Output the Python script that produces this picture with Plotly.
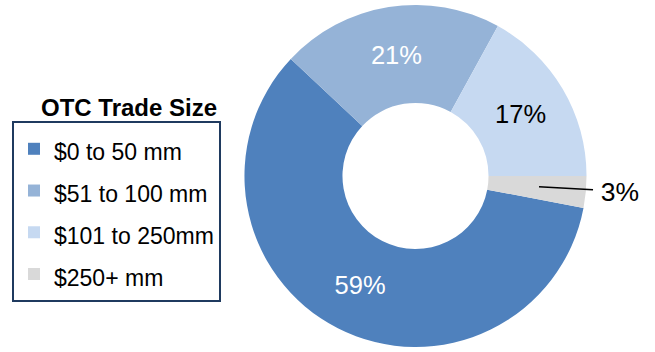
import plotly.graph_objects as go

categories = ["$0 to 50 mm", "$51 to 100 mm", "$101 to 250mm", "$250+ mm"]
shares = [59, 21, 17, 3]
colors = ["#4F81BD", "#95B3D7", "#C6D9F1", "#D9D9D9"]
text_colors = ["white", "white", "black", "black"]
text_positions = ["inside", "inside", "inside", "outside"]
legend_title = "OTC Trade Size"

W, H = 655, 352
FONT = "Liberation Sans, Arial, sans-serif"

# legend rows are spaced by the legend font; the visible text uses a smaller span
legend_labels = [f"<span style='font-size:23px'>{c}</span>" for c in categories]
# outside label is nudged away from the ring (room for the leader line)
text_templates = ["%{value}%" if p == "inside" else "&nbsp;%{value}%" for p in text_positions]

fig = go.Figure(go.Pie(
    labels=legend_labels,
    values=shares,
    sort=False,
    direction="clockwise",
    rotation=100.8,
    hole=0.427,
    marker=dict(colors=colors, line=dict(width=0)),
    texttemplate=text_templates,
    textposition=text_positions,
    insidetextorientation="horizontal",
    insidetextfont=dict(color=text_colors, size=25.5, family=FONT),
    outsidetextfont=dict(color="black", size=26.5, family=FONT),
    hoverinfo="skip",
    domain=dict(x=[(415.5 - 174) / W, (415.5 + 174) / W], y=[0.0, 1 - 4 / H]),
))

fig.update_layout(
    width=W, height=H,
    margin=dict(l=0, r=0, t=0, b=0),
    paper_bgcolor="white",
    plot_bgcolor="white",
    showlegend=True,
    legend=dict(
        x=12 / W, y=1 - 122 / H, xanchor="left", yanchor="top",
        bgcolor="white", bordercolor="#1F3A5F", borderwidth=2,
        font=dict(family=FONT, size=29.8, color="black"),
        tracegroupgap=0,
        entrywidth=174, entrywidthmode="pixels",
    ),
    annotations=[dict(
        text=f"<b>{legend_title}</b>", x=219 / W, y=1 - 108 / H,
        xref="paper", yref="paper", xanchor="right", yanchor="middle",
        showarrow=False, font=dict(family=FONT, size=24, color="black"),
    )],
    shapes=[dict(
        type="line", xref="paper", yref="paper",
        x0=539 / W, y0=1 - 189 / H, x1=593 / W, y1=1 - 192 / H,
        line=dict(color="black", width=1.5),
    )],
)

fig.write_html("out.html", config={"displayModeBar": False},
               post_script="document.body.style.margin='0';")
